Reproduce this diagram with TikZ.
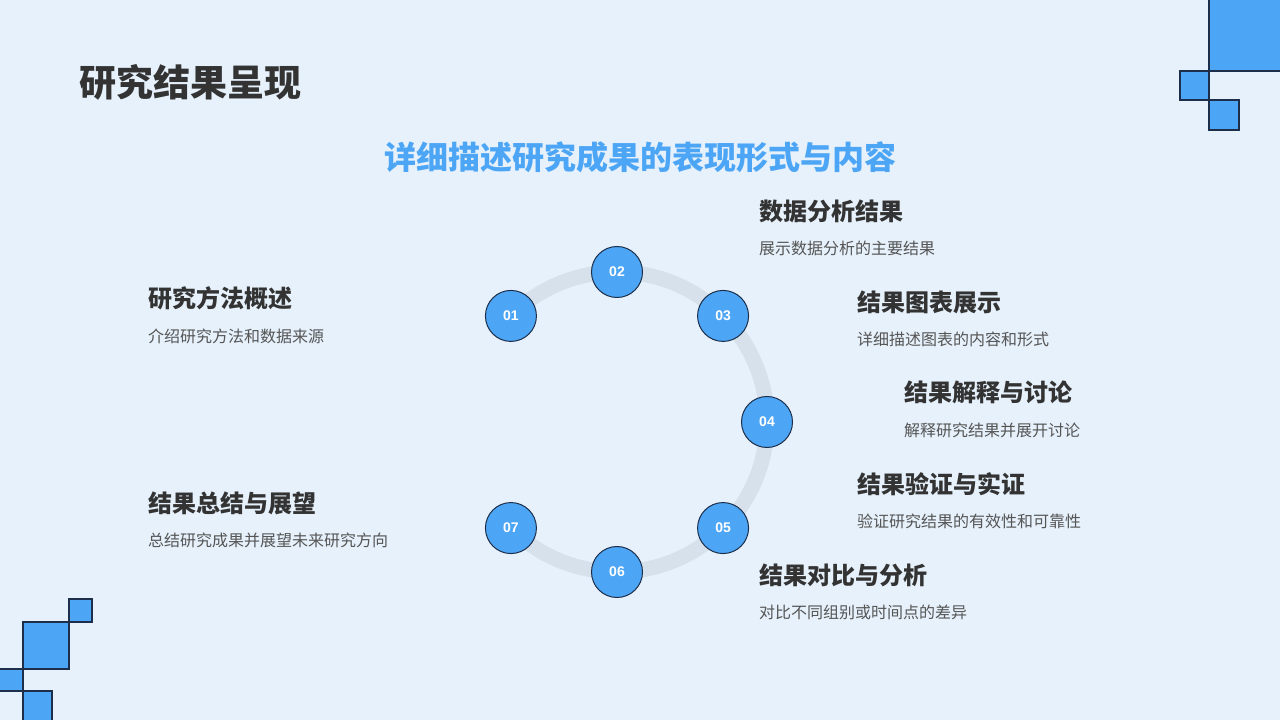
\documentclass[tikz,border=0pt]{standalone}
\usepackage{fontspec}
\setmainfont{Liberation Sans}
\newfontfamily\cjk{Noto Sans CJK SC}
\usetikzlibrary{calc,positioning}

\definecolor{bgc}{RGB}{230,241,251}
\definecolor{accent}{RGB}{77,166,245}
\definecolor{edgec}{RGB}{28,46,74}
\definecolor{ringc}{RGB}{214,225,236}
\definecolor{headc}{RGB}{51,51,51}
\definecolor{descc}{RGB}{85,85,85}

\tikzset{
  tile/.style={fill=accent,draw=edgec,line width=1.2pt},
  stepdot/.style={circle,minimum size=51pt,inner sep=0pt,fill=accent,draw=edgec,line width=1pt,
    text=white,font=\fontsize{14}{16}\selectfont\bfseries},
  head/.style={anchor=west,inner sep=0pt,text=headc,font=\cjk\fontsize{24}{28}\selectfont\bfseries},
  desc/.style={anchor=west,inner sep=0pt,text=descc,font=\cjk\fontsize{16}{19}\selectfont}
}

\begin{document}
\begin{tikzpicture}[x=1pt,y=1pt]
  % --- page background ---
  \fill[bgc] (0,0) rectangle (1280,720);
  \useasboundingbox (0,0) rectangle (1280,720);
  % --- corner tiles ---
  \draw[tile] (1209,649) rectangle (1281,721);
  \draw[tile] (1180,620) rectangle (1209,649);
  \draw[tile] (1209,590) rectangle (1239,620);
  \draw[tile] (69,98) rectangle (92,121);
  \draw[tile] (23,51) rectangle (69,98);
  \draw[tile] (-1,29) rectangle (23,51);
  \draw[tile] (23,-1) rectangle (52,29);
  % --- titles ---
  \node[anchor=west,inner sep=0pt,text=headc,font=\cjk\fontsize{37}{42}\selectfont\bfseries]
    (title) at (79,638) {研究结果呈现};
  \node[inner sep=0pt,text=accent,font=\cjk\fontsize{32}{36}\selectfont\bfseries]
    (sub) at (640,563) {详细描述研究成果的表现形式与内容};
  % --- ring with the seven steps ---
  \coordinate (C) at (617,298);
  \draw[ringc,line width=15pt] ($(C)+(135:150)$) arc[start angle=135,end angle=-135,radius=150];
  \foreach \i/\a in {1/135,2/90,3/45,4/0,5/-45,6/-90,7/-135}
    \node[stepdot] (n\i) at ($(C)+(\a:150)$) {0\i};
  % --- labels ---
  \node[head] (h2) at (759,509) {数据分析结果};
  \node[desc] (d2) at ($(h2.west)+(0,-37)$) {展示数据分析的主要结果};
  \node[head] (h3) at (857,418) {结果图表展示};
  \node[desc] (d3) at ($(h3.west)+(0,-37)$) {详细描述图表的内容和形式};
  \node[head] (h4) at (904,328) {结果解释与讨论};
  \node[desc] (d4) at ($(h4.west)+(0,-38)$) {解释研究结果并展开讨论};
  \node[head] (h5) at (857,236) {结果验证与实证};
  \node[desc] (d5) at ($(h5.west)+(0,-37)$) {验证研究结果的有效性和可靠性};
  \node[head] (h6) at (759,145) {结果对比与分析};
  \node[desc] (d6) at ($(h6.west)+(0,-37)$) {对比不同组别或时间点的差异};
  \node[head] (h1) at (148,422) {研究方法概述};
  \node[desc] (d1) at ($(h1.west)+(0,-38)$) {介绍研究方法和数据来源};
  \node[head] (h7) at (148,217) {结果总结与展望};
  \node[desc] (d7) at ($(h7.west)+(0,-37)$) {总结研究成果并展望未来研究方向};
\end{tikzpicture}
\end{document}
